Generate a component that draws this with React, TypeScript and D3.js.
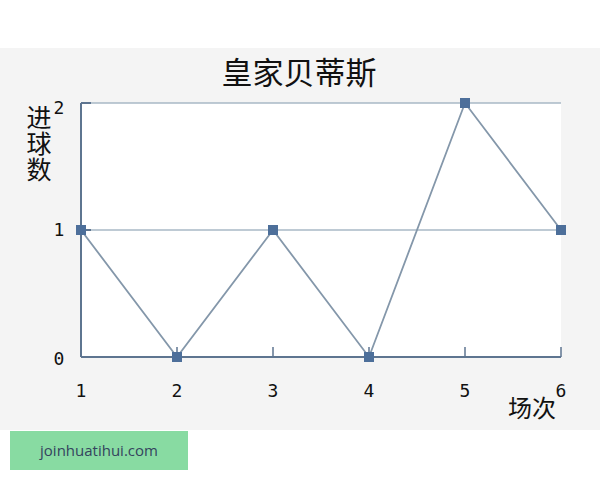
import React from "react";
import * as d3 from "d3";

// match numbers and goals scored
const matches = [1, 2, 3, 4, 5, 6];
const goals = [1, 0, 1, 0, 2, 1];
const yTicks = [0, 1, 2];
const title = "皇家贝蒂斯";
const yLabel = "进球数";
const xLabel = "场次";

const App: React.FC = () => {
  const width = 600, height = 480;
  const margin = { top: 103, right: 39, bottom: 123, left: 81 };

  const x = d3.scaleLinear().domain([1, 6]).range([margin.left, width - margin.right]);
  const y = d3.scaleLinear().domain([0, 2]).range([height - margin.bottom, margin.top]);

  const line = d3.line<number>()
    .x((_, i) => x(matches[i]))
    .y((d) => y(d));

  const mono = "'DejaVu Sans Mono', monospace";
  const cjk = "'Noto Sans CJK SC', sans-serif";

  // label offsets for the y ticks (top one sits below its tick)
  const yLabelDy = (t: number) => (t === 2 ? 11 : t === 1 ? 6 : 8);

  return (
    <svg
      width={width}
      height={height}
      style={{ position: "absolute", left: 0, top: 0 }}
    >
      <rect x={0} y={0} width={width} height={height} fill="#ffffff" />
      {/* gray chart band */}
      <rect x={0} y={48} width={width} height={382} fill="#f4f4f4" />
      <rect x={x(1)} y={y(2)} width={x(6) - x(1)} height={y(0) - y(2)} fill="#ffffff" />

      <text x={299} y={84} textAnchor="middle" fontFamily={cjk} fontSize={31} fill="#111">
        {title}
      </text>

      {/* grid lines */}
      {yTicks.filter((t) => t > 0).map((t) => (
        <line key={t} x1={x(1)} x2={x(6)} y1={y(t)} y2={y(t)} stroke="#a9b9c6" strokeWidth={1.5} />
      ))}

      {/* axes */}
      <line x1={x(1)} x2={x(1)} y1={y(2)} y2={y(0)} stroke="#5e7590" strokeWidth={2} />
      <line x1={x(1)} x2={x(6)} y1={y(0)} y2={y(0)} stroke="#5e7590" strokeWidth={2} />
      {yTicks.map((t) => (
        <line key={t} x1={x(1)} x2={x(1) + 10} y1={y(t)} y2={y(t)} stroke="#5e7590" strokeWidth={2} />
      ))}
      {matches.slice(1).map((m) => (
        <line key={m} x1={x(m)} x2={x(m)} y1={y(0)} y2={y(0) - 10} stroke="#5e7590" strokeWidth={1.5} />
      ))}

      {/* tick labels */}
      {yTicks.map((t) => (
        <text key={t} x={x(1) - 22} y={y(t) + yLabelDy(t)} textAnchor="middle"
          fontFamily={mono} fontSize={18} fill="#111">{t}</text>
      ))}
      {matches.map((m) => (
        <text key={m} x={x(m)} y={y(0) + 40} textAnchor="middle"
          fontFamily={mono} fontSize={18} fill="#111">{m}</text>
      ))}

      {/* axis labels */}
      <text x={39} y={105} fontFamily={cjk} fontSize={25} fill="#111"
        style={{ writingMode: "vertical-rl", letterSpacing: 1 }}>
        {yLabel}
      </text>
      <text x={532} y={417} textAnchor="middle" fontFamily={cjk} fontSize={24} fill="#111">{xLabel}</text>

      {/* series */}
      <path d={line(goals) ?? ""} fill="none" stroke="#8497aa" strokeWidth={1.8} />
      {goals.map((g, i) => (
        <rect key={i} x={x(matches[i]) - 5} y={y(g) - 5} width={10} height={10} fill="#4d6f9a" />
      ))}

      {/* watermark */}
      <rect x={10} y={431} width={178} height={39} fill="#88dba2" />
      <text x={99} y={456} textAnchor="middle" fontFamily="'Open Sans', sans-serif" fontSize={15} fill="#34445e">
        joinhuatihui.com
      </text>
    </svg>
  );
};

export default App;
